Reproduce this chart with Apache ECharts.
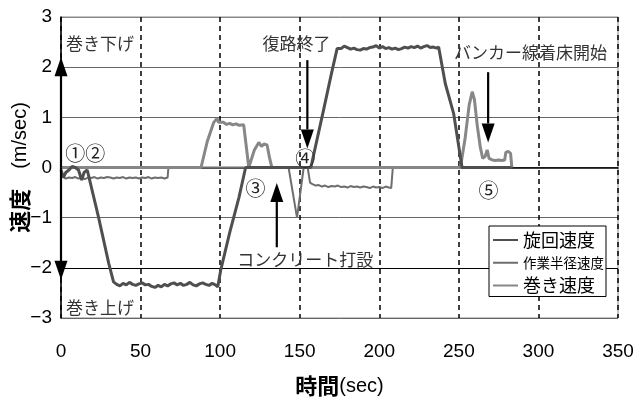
<!DOCTYPE html>
<html>
<head>
<meta charset="utf-8">
<script src="https://cdn.jsdelivr.net/npm/echarts@6/dist/echarts.min.js"></script>
<style>
html,body{margin:0;padding:0;background:#fff;}
#c{width:640px;height:400px;}
</style>
</head>
<body>
<div id="c"></div>
<script>
// ---- data (time in sec, speed in m/sec) ----
const seriesNames = ['旋回速度', '作業半径速度', '巻き速度'];
const xTicks = [0, 50, 100, 150, 200, 250, 300, 350];
const yTicks = [-3, -2, -1, 0, 1, 2, 3];

const slewSpeed = [
  [0,-0.05],[1.5,-0.2],[3,-0.1],[5,-0.05],[7,0.02],[9,0],[11,-0.05],[13,-0.25],[14.5,-0.1],[16.5,-0.05],
  [23.5,-0.98],[30,-1.91],[33,-2.28],
  [35,-2.33],[37,-2.36],[39,-2.31],[41,-2.34],[43,-2.29],[45,-2.33],[47,-2.35],[49,-2.32],[51,-2.3],[53,-2.34],
  [55,-2.33],[57,-2.37],[59,-2.39],[61,-2.35],[63,-2.38],[65,-2.33],[67,-2.36],[69,-2.32],[71,-2.3],[73,-2.34],
  [75,-2.31],[77,-2.35],[79,-2.33],[81,-2.29],[83,-2.34],[85,-2.36],[87,-2.32],[89,-2.3],[91,-2.33],[93,-2.35],
  [95,-2.31],[97,-2.34],[98.5,-2.38],
  [100.4,-2.04],[106,-1.3],[111.8,-0.6],[116,0],
  [157,0],[160,0.43],[165,1.15],[170,1.88],[173.5,2.37],
  [174,2.4],[176,2.37],[178,2.42],[180,2.39],[182,2.36],[184,2.38],[186,2.35],[188,2.34],[190,2.37],[192,2.36],
  [194,2.39],[196,2.4],[198,2.43],[200,2.38],[202,2.41],[204,2.37],[206,2.39],[208,2.36],[210,2.38],[212,2.35],
  [214,2.37],[216,2.4],[218,2.38],[220,2.41],[222,2.39],[224,2.42],[226,2.38],[228,2.41],[230,2.43],[232,2.39],
  [234,2.4],[236,2.38],[237.3,2.4],
  [241.5,1.67],[246.7,1.08],[252,0],[283,0]
];

const radiusSpeed = [
  [0,-0.1],[1,-0.18],[3,-0.22],[5,-0.2],[7,-0.21],[9,-0.19],[11,-0.22],[13,-0.2],[15,-0.23],[17,-0.2],
  [19,-0.21],[21,-0.19],[23,-0.22],[25,-0.2],[27,-0.21],[29,-0.19],[31,-0.2],[33,-0.22],[35,-0.2],[37,-0.21],
  [39,-0.19],[41,-0.22],[43,-0.2],[45,-0.21],[47,-0.2],[49,-0.22],[51,-0.2],[53,-0.21],[55,-0.19],[57,-0.22],
  [59,-0.2],[61,-0.21],[63,-0.2],[65,-0.22],[67,-0.2],[67.5,0],
  [143,0],[148.3,-1.0],[152.5,0],[155,0],[156.5,-0.3],
  [158,-0.33],[160,-0.36],[162,-0.35],[164,-0.38],[166,-0.36],[168,-0.39],[170,-0.37],[172,-0.38],[174,-0.36],
  [176,-0.39],[178,-0.38],[180,-0.4],[182,-0.37],[184,-0.39],[186,-0.38],[188,-0.4],[190,-0.38],[192,-0.39],
  [194,-0.41],[196,-0.38],[198,-0.4],[200,-0.39],[202,-0.41],[204,-0.38],[206,-0.4],[207.5,-0.41],[208.5,0],
  [283,0]
];

const hoistSpeed = [
  [0,0],[88,0],[92,0.53],[96,0.9],[98,0.98],[99,0.9],[100,0.88],[102,0.9],[104,0.86],[106,0.88],[108,0.85],
  [110,0.87],[112,0.84],[114.8,0.85],[118,0],[119,0.03],[121.5,0.35],[124.3,0.5],[126,0.42],[127.5,0.47],
  [129.5,0.45],[131,0.2],[132.5,0],
  [251,0],[254,0.6],[256.5,1.25],[258.4,1.51],[259.8,1.35],[261.5,0.85],[263.5,0.4],[265,0.18],[266.5,0.22],
  [267.8,0.35],[269,0.18],[271,0.15],[273,0.14],[275,0.15],[277,0.14],[278.8,0.15],[279.5,0.3],[281,0.32],
  [282.5,0.28],[283.3,0]
];

// ---- annotations (in data coordinates) ----
const labels = [
  {text:'巻き下げ', at:[3.2,2.47], align:'left'},
  {text:'巻き上げ', at:[3.2,-2.8], align:'left'},
  {text:'復路終了', at:[148,2.48], align:'center'},
  {text:'バンカー線着床開始', at:[295,2.3], align:'center'},
  {text:'コンクリート打設', at:[153.5,-1.84], align:'center'},
];
const circled = [
  {text:'①②', at:[15.3,0.28]},
  {text:'③', at:[122.2,-0.41]},
  {text:'④', at:[153.5,0.19]},
  {text:'⑤', at:[268.6,-0.45]},
];
const arrows = [
  {from:[0,0], to:[0,2.2]},
  {from:[0,0], to:[0,-2.24]},
  {from:[154.8,2.14], to:[154.8,0.38]},
  {from:[135.6,-1.59], to:[135.6,-0.31]},
  {from:[268.4,1.9], to:[268.4,0.5]},
];

const FONT = '"Liberation Sans", Arial, "Noto Sans CJK JP", sans-serif';
const JP = '"Noto Sans CJK JP", "Liberation Sans", sans-serif';
const colors = ['#4f4f4f', '#6e6e6e', '#878787'];
const widths = [3, 2, 3];
const dataSets = [slewSpeed, radiusSpeed, hoistSpeed];

const chart = echarts.init(document.getElementById('c'), null, {renderer:'canvas'});
const option = {
  animation: false,
  backgroundColor: '#fff',
  grid: {left: 61, right: 22, top: 17, bottom: 82, containLabel: false, outerBoundsMode: 'none',
    show: true, borderColor: '#888', borderWidth: 1, backgroundColor: 'transparent'},
  xAxis: {
    type: 'value', min: xTicks[0], max: xTicks[xTicks.length-1], interval: 50,
    axisLine: {lineStyle: {color: '#000', width: 1.5}},
    axisTick: {show: false},
    axisLabel: {color: '#000', fontSize: 19, fontFamily: FONT, margin: 24},
    splitLine: {show: true, lineStyle: {color: '#000', type: [5, 4], width: 1.5}},
    name: '{b|時間}{n|(sec)}', nameLocation: 'middle', nameGap: 57,
    nameTextStyle: {rich: {
      b: {fontSize: 22, fontWeight: 'bold', fontFamily: JP, color: '#000'},
      n: {fontSize: 20, fontFamily: FONT, color: '#000'}
    }}
  },
  yAxis: {
    type: 'value', min: yTicks[0], max: yTicks[yTicks.length-1], interval: 1,
    axisLine: {show: true, lineStyle: {color: '#000', width: 1.5}},
    axisTick: {show: false},
    axisLabel: {color: '#000', fontSize: 19, fontFamily: FONT, margin: 9,
      formatter: v => String(v).replace('-', '−')},
    splitLine: {show: true, lineStyle: {color: ['#666', '#000', '#666', '#666', '#666', '#666', '#888'], width: 1}},
    name: '{b|速度}{n|　(m/sec)}', nameLocation: 'middle', nameGap: 30, nameRotate: 90,
    nameMoveOverlap: false,
    nameTextStyle: {rich: {
      b: {fontSize: 22, fontWeight: 'bold', fontFamily: JP, color: '#000'},
      n: {fontSize: 20, fontFamily: FONT, color: '#000'}
    }}
  },
  legend: {
    orient: 'vertical', left: 489, top: 226,
    padding: [5, 2, 2, 3], itemGap: 7, itemWidth: 25, itemHeight: 10,
    backgroundColor: '#fff', borderColor: '#000', borderWidth: 1, borderRadius: 0,
    itemStyle: {opacity: 0},
    data: seriesNames,
    formatter: n => n === '作業半径速度' ? '{s|' + n + '}' : '{b|' + n + '}',
    textStyle: {color: '#000', rich: {
      b: {fontSize: 18, fontFamily: JP, lineHeight: 18, color: '#000'},
      s: {fontSize: 13.5, fontFamily: JP, lineHeight: 18, color: '#000'}
    }}
  },
  series: seriesNames.map((n, i) => ({
    name: n, type: 'line', data: dataSets[i], symbol: 'none', showSymbol: false,
    lineStyle: {color: colors[i], width: widths[i]}, itemStyle: {color: colors[i]},
    z: 3 + (i === 0 ? 1 : 0)
  }))
};
chart.setOption(option);

function px(p) { return chart.convertToPixel({gridIndex: 0}, p); }
const graphics = [];
labels.forEach(l => {
  const p = px(l.at);
  graphics.push({type: 'text', x: p[0], y: p[1], z: 50,
    style: {text: l.text, font: '17px ' + JP, fill: '#333', align: l.align, verticalAlign: 'middle'}});
});
circled.forEach(l => {
  const p = px(l.at);
  graphics.push({type: 'text', x: p[0], y: p[1], z: 50,
    style: {text: l.text, font: '20px ' + JP, fill: '#222', align: 'center', verticalAlign: 'middle'}});
});
const HEAD_L = 19, HEAD_W = 13;
arrows.forEach(a => {
  const p1 = px(a.from), p2 = px(a.to);
  const dx = p2[0] - p1[0], dy = p2[1] - p1[1];
  const len = Math.sqrt(dx*dx + dy*dy), ux = dx/len, uy = dy/len;
  const bx = p2[0] - ux*HEAD_L, by = p2[1] - uy*HEAD_L;
  graphics.push({type: 'line', z: 60, shape: {x1: p1[0], y1: p1[1], x2: bx, y2: by},
    style: {stroke: '#000', lineWidth: 2.2}});
  graphics.push({type: 'polygon', z: 60, shape: {points: [
    [p2[0], p2[1]], [bx - uy*HEAD_W/2, by + ux*HEAD_W/2], [bx + uy*HEAD_W/2, by - ux*HEAD_W/2]]},
    style: {fill: '#000'}});
});
chart.setOption({graphic: graphics});
</script>
</body>
</html>
